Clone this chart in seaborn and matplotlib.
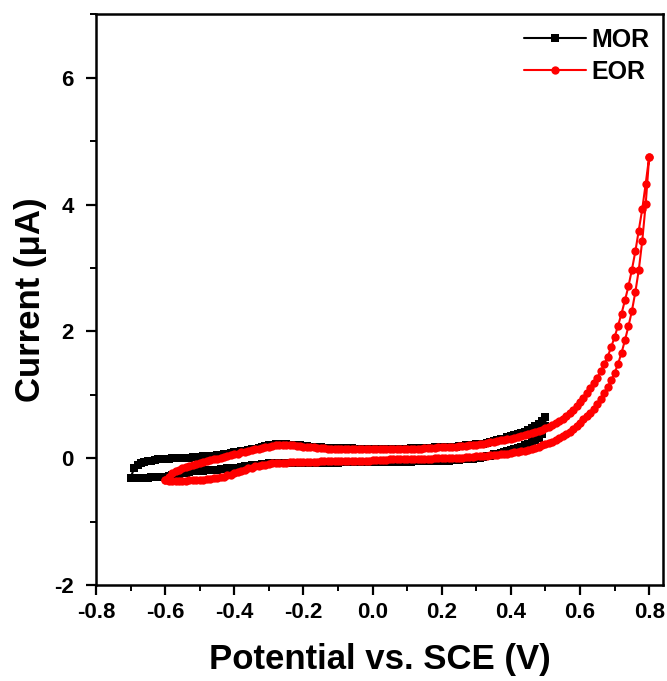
import numpy as np
import pandas as pd
import matplotlib
matplotlib.use("Agg")
import matplotlib.pyplot as plt
from matplotlib.ticker import MultipleLocator
import seaborn as sns

# Potential grids of the two cyclic voltammograms (10 mV steps)
mor_potential = np.round(np.arange(-0.70, 0.5001, 0.01), 2)
eor_potential = np.round(np.arange(-0.60, 0.8001, 0.01), 2)

# MOR current (uA): anodic sweep, low -> high potential
mor_forward = [
    -0.31, -0.31, -0.31, -0.31, -0.31, -0.31, -0.30, -0.30, -0.30, -0.29,
    -0.29, -0.28, -0.27, -0.26, -0.25, -0.24, -0.23, -0.22, -0.21, -0.21,
    -0.20, -0.20, -0.19, -0.19, -0.18, -0.18, -0.17, -0.17, -0.16, -0.16,
    -0.15, -0.15, -0.14, -0.13, -0.12, -0.11, -0.10, -0.10, -0.09, -0.09,
    -0.08, -0.08, -0.08, -0.07, -0.07, -0.07, -0.07, -0.07, -0.07, -0.07,
    -0.07, -0.07, -0.07, -0.07, -0.07, -0.07, -0.07, -0.07, -0.07, -0.07,
    -0.07, -0.06, -0.06, -0.06, -0.06, -0.06, -0.06, -0.06, -0.06, -0.06,
    -0.06, -0.06, -0.06, -0.06, -0.06, -0.06, -0.06, -0.06, -0.06, -0.06,
    -0.06, -0.06, -0.05, -0.05, -0.05, -0.05, -0.05, -0.05, -0.04, -0.04,
    -0.04, -0.04, -0.04, -0.03, -0.03, -0.03, -0.02, -0.02, -0.01, -0.01,
    0.00, 0.01, 0.02, 0.03, 0.04, 0.06, 0.07, 0.08, 0.10, 0.11,
    0.13, 0.14, 0.16, 0.18, 0.20, 0.22, 0.25, 0.28, 0.32, 0.38,
    0.50,
]
# MOR current (uA): cathodic sweep, listed low -> high potential
mor_reverse = [
    -0.31, -0.16, -0.11, -0.08, -0.06, -0.05, -0.04, -0.03, -0.02, -0.02,
    -0.01, -0.01, 0.00, 0.00, 0.00, 0.01, 0.01, 0.01, 0.02, 0.02,
    0.02, 0.03, 0.03, 0.04, 0.04, 0.05, 0.05, 0.06, 0.07, 0.08,
    0.09, 0.10, 0.11, 0.12, 0.13, 0.14, 0.15, 0.16, 0.18, 0.19,
    0.20, 0.21, 0.22, 0.22, 0.22, 0.22, 0.21, 0.21, 0.20, 0.20,
    0.19, 0.19, 0.18, 0.18, 0.17, 0.17, 0.16, 0.16, 0.16, 0.16,
    0.16, 0.16, 0.16, 0.16, 0.16, 0.15, 0.15, 0.15, 0.15, 0.15,
    0.15, 0.15, 0.15, 0.15, 0.15, 0.15, 0.15, 0.15, 0.15, 0.15,
    0.15, 0.16, 0.16, 0.16, 0.16, 0.16, 0.16, 0.16, 0.17, 0.17,
    0.17, 0.17, 0.17, 0.18, 0.18, 0.19, 0.19, 0.20, 0.20, 0.21,
    0.22, 0.22, 0.23, 0.24, 0.25, 0.27, 0.28, 0.30, 0.31, 0.33,
    0.35, 0.36, 0.38, 0.40, 0.42, 0.44, 0.47, 0.50, 0.54, 0.59,
    0.65,
]

# EOR current (uA): anodic sweep, low -> high potential
eor_forward = [
    -0.35, -0.36, -0.36, -0.36, -0.36, -0.36, -0.36, -0.35, -0.35, -0.35,
    -0.34, -0.34, -0.33, -0.33, -0.32, -0.31, -0.30, -0.29, -0.27, -0.26,
    -0.24, -0.22, -0.20, -0.18, -0.16, -0.15, -0.13, -0.12, -0.11, -0.10,
    -0.09, -0.08, -0.08, -0.07, -0.07, -0.07, -0.06, -0.06, -0.06, -0.06,
    -0.06, -0.06, -0.06, -0.06, -0.06, -0.05, -0.05, -0.05, -0.05, -0.05,
    -0.05, -0.05, -0.05, -0.05, -0.05, -0.04, -0.04, -0.04, -0.04, -0.04,
    -0.03, -0.03, -0.03, -0.03, -0.03, -0.02, -0.02, -0.02, -0.02, -0.02,
    -0.02, -0.02, -0.02, -0.01, -0.01, -0.01, -0.01, -0.01, 0.00, 0.00,
    0.00, 0.00, 0.00, 0.01, 0.01, 0.01, 0.01, 0.02, 0.02, 0.02,
    0.03, 0.03, 0.04, 0.04, 0.05, 0.05, 0.05, 0.06, 0.06, 0.07,
    0.08, 0.09, 0.10, 0.11, 0.12, 0.13, 0.15, 0.16, 0.18, 0.20,
    0.22, 0.24, 0.26, 0.29, 0.32, 0.35, 0.38, 0.42, 0.46, 0.51,
    0.56, 0.61, 0.66, 0.72, 0.78, 0.86, 0.94, 1.03, 1.12, 1.23,
    1.34, 1.49, 1.66, 1.86, 2.08, 2.32, 2.62, 2.97, 3.43, 4.01,
    4.75,
]
# EOR current (uA): cathodic sweep, listed low -> high potential
eor_reverse = [
    -0.35, -0.29, -0.24, -0.21, -0.18, -0.16, -0.14, -0.12, -0.11, -0.09,
    -0.08, -0.06, -0.05, -0.03, -0.02, -0.01, 0.01, 0.02, 0.03, 0.05,
    0.06, 0.07, 0.09, 0.10, 0.11, 0.13, 0.14, 0.15, 0.16, 0.17,
    0.18, 0.19, 0.20, 0.21, 0.21, 0.21, 0.21, 0.20, 0.19, 0.19,
    0.18, 0.18, 0.17, 0.17, 0.16, 0.16, 0.16, 0.15, 0.15, 0.15,
    0.15, 0.15, 0.15, 0.15, 0.15, 0.15, 0.15, 0.15, 0.15, 0.15,
    0.15, 0.15, 0.15, 0.15, 0.15, 0.15, 0.15, 0.15, 0.15, 0.15,
    0.15, 0.15, 0.15, 0.15, 0.15, 0.16, 0.16, 0.16, 0.16, 0.17,
    0.17, 0.18, 0.18, 0.18, 0.18, 0.19, 0.19, 0.19, 0.20, 0.20,
    0.21, 0.22, 0.23, 0.24, 0.25, 0.26, 0.27, 0.28, 0.29, 0.30,
    0.31, 0.32, 0.34, 0.35, 0.36, 0.38, 0.39, 0.41, 0.43, 0.45,
    0.47, 0.49, 0.52, 0.55, 0.58, 0.62, 0.66, 0.71, 0.76, 0.82,
    0.88, 0.95, 1.02, 1.10, 1.18, 1.27, 1.37, 1.48, 1.60, 1.75,
    1.91, 2.09, 2.28, 2.49, 2.71, 2.97, 3.26, 3.59, 3.93, 4.33,
    4.75,
]

series_names = ["MOR", "EOR"]
series_colors = {"MOR": "black", "EOR": "red"}
series_markers = {"MOR": "s", "EOR": "o"}
series_marker_sizes = {"MOR": 5.2, "EOR": 6.0}

x_ticks = [-0.8, -0.6, -0.4, -0.2, 0.0, 0.2, 0.4, 0.6, 0.8]
x_tick_labels = ["-0.8", "-0.6", "-0.4", "-0.2", "0.0", "0.2", "0.4", "0.6", "0.8"]
y_ticks = [-2, 0, 2, 4, 6]
y_tick_labels = ["-2", "0", "2", "4", "6"]


def cycle_frame(name, potential, forward, reverse):
    """Closed CV loop: anodic sweep up, then cathodic sweep back down."""
    x = np.concatenate([potential, potential[::-1]])
    y = np.concatenate([np.asarray(forward), np.asarray(reverse)[::-1]])
    return pd.DataFrame({"Potential": x, "Current": y, "Sample": name})


data = pd.concat([
    cycle_frame("MOR", mor_potential, mor_forward, mor_reverse),
    cycle_frame("EOR", eor_potential, eor_forward, eor_reverse),
], ignore_index=True)

sns.set_theme(style="ticks")
plt.rcParams["font.family"] = ["Liberation Sans", "DejaVu Sans"]
plt.rcParams["font.weight"] = "bold"
plt.rcParams["axes.labelweight"] = "bold"
plt.rcParams["axes.unicode_minus"] = False
plt.rcParams["text.color"] = "black"
plt.rcParams["axes.labelcolor"] = "black"
plt.rcParams["xtick.color"] = "black"
plt.rcParams["ytick.color"] = "black"

fig = plt.figure(figsize=(6.67, 6.81), dpi=100)
ax = fig.add_axes([0.144, 0.141, 0.850, 0.838])

for name in series_names:
    sub = data[data["Sample"] == name]
    sns.lineplot(
        data=sub, x="Potential", y="Current", ax=ax,
        sort=False, estimator=None, color=series_colors[name],
        marker=series_markers[name],
        markersize=series_marker_sizes[name],
        markeredgewidth=0, linewidth=1.5, label=name,
    )

ax.set_xlim(-0.8, 0.84)
ax.set_ylim(-2, 7)
ax.set_xticks(x_ticks)
ax.set_xticklabels(x_tick_labels)
ax.set_yticks(y_ticks)
ax.set_yticklabels(y_tick_labels)
ax.xaxis.set_minor_locator(MultipleLocator(0.1))
ax.yaxis.set_minor_locator(MultipleLocator(1))

for side in ["top", "right", "bottom", "left"]:
    ax.spines[side].set_linewidth(1.8)
    ax.spines[side].set_color("black")

ax.tick_params(axis="both", which="major", direction="out", length=7,
               width=1.6, labelsize=16, colors="black", pad=5)
ax.tick_params(axis="y", which="major", pad=9)
ax.tick_params(axis="both", which="minor", direction="out", length=4,
               width=1.4, colors="black")
ax.tick_params(top=False, right=False, which="both")
for lbl in ax.get_xticklabels() + ax.get_yticklabels():
    lbl.set_fontweight("bold")

ax.set_xlabel("Potential vs. SCE (V)", fontsize=25, fontweight="bold",
              labelpad=15, color="black")
ax.set_ylabel("Current (μA)", fontsize=25, fontweight="bold",
              labelpad=5, color="black")

leg = ax.legend(loc="upper right", frameon=False, handlelength=2.5,
                prop={"weight": "bold", "size": 18}, borderaxespad=0.15,
                handletextpad=0.2, labelspacing=0.3)
for t in leg.get_texts():
    t.set_color("black")

fig.savefig("out.png", dpi=100)
